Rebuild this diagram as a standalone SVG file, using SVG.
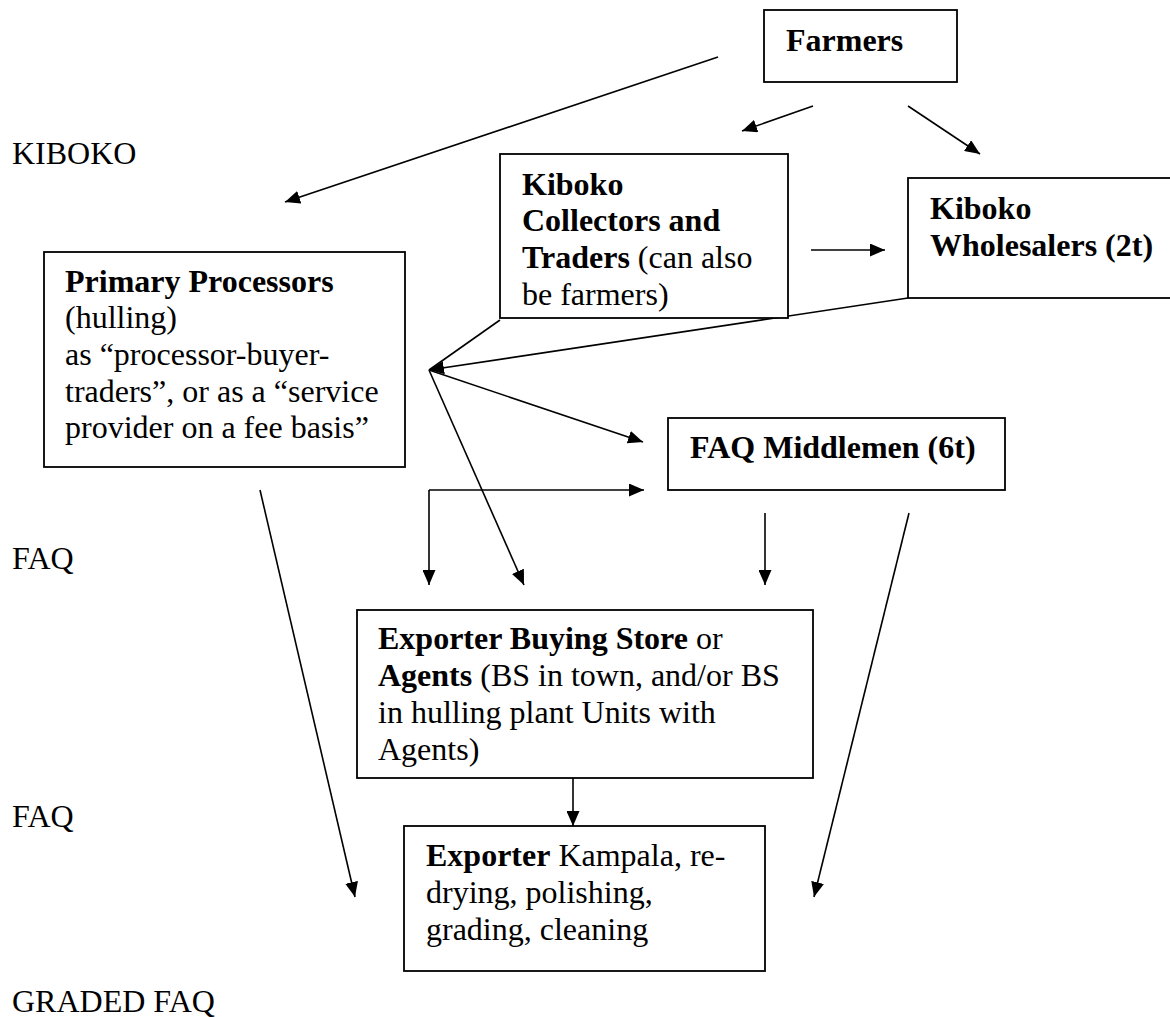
<svg xmlns="http://www.w3.org/2000/svg" width="1170" height="1017" viewBox="0 0 1170 1017">
<style>
.box{fill:#fff;stroke:#000;stroke-width:1.8}
text{font-family:'Liberation Serif',Tinos,'Times New Roman',Times,'DejaVu Serif',serif;font-size:32px;fill:#000}
.b{font-weight:bold}
.c{fill:none;stroke:#000;stroke-width:1.6}
</style>
<defs>
<marker id="ah" markerUnits="userSpaceOnUse" markerWidth="16" markerHeight="13" refX="15" refY="6.5" orient="auto">
<path d="M0,0 L15,6.5 L0,13 z" fill="#000"/>
</marker>
</defs>
<rect width="1170" height="1017" fill="#fff"/>

<g id="labels">
<text x="12" y="164">KIBOKO</text>
<text x="12" y="569">FAQ</text>
<text x="12" y="827">FAQ</text>
<text x="12" y="1012">GRADED FAQ</text>
</g>

<g id="connectors" class="c">
<line x1="718" y1="57" x2="285" y2="202" marker-end="url(#ah)"/>
<line x1="813" y1="106" x2="742" y2="131" marker-end="url(#ah)"/>
<line x1="908" y1="106" x2="980" y2="154" marker-end="url(#ah)"/>
<line x1="811" y1="250" x2="885" y2="250" marker-end="url(#ah)"/>
<line x1="500" y1="320" x2="429" y2="370"/>
<line x1="908" y1="298" x2="429" y2="370" marker-end="url(#ah)"/>
<line x1="429" y1="370" x2="643" y2="442" marker-end="url(#ah)"/>
<line x1="429" y1="370" x2="524" y2="585" marker-end="url(#ah)"/>
<line x1="429" y1="490" x2="429" y2="585" marker-end="url(#ah)"/>
<line x1="429" y1="490" x2="644" y2="490" marker-end="url(#ah)"/>
<line x1="765" y1="513" x2="765" y2="585" marker-end="url(#ah)"/>
<line x1="909" y1="513" x2="814" y2="897" marker-end="url(#ah)"/>
<line x1="260" y1="490" x2="355" y2="897" marker-end="url(#ah)"/>
<line x1="573" y1="778" x2="573" y2="826" marker-end="url(#ah)"/>
</g>

<g id="farmers">
<rect class="box" x="764" y="10" width="193" height="72"/>
<text class="b" x="786" y="51">Farmers</text>
</g>

<g id="collectors">
<rect class="box" x="500" y="154" width="288" height="164"/>
<text class="b" x="522" y="195">Kiboko</text>
<text class="b" x="522" y="231">Collectors and</text>
<text x="522" y="268"><tspan class="b">Traders</tspan> (can also</text>
<text x="522" y="305">be farmers)</text>
</g>

<g id="wholesalers">
<rect class="box" x="908" y="178" width="280" height="120"/>
<text class="b" x="930" y="219">Kiboko</text>
<text class="b" x="930" y="256">Wholesalers (2t)</text>
</g>

<g id="primary">
<rect class="box" x="44" y="252" width="361" height="215"/>
<text class="b" x="65" y="292">Primary Processors</text>
<text x="65" y="328">(hulling)</text>
<text x="65" y="365">as “processor-buyer-</text>
<text x="65" y="402">traders”, or as a “service</text>
<text x="65" y="438">provider on a fee basis”</text>
</g>

<g id="middlemen">
<rect class="box" x="668" y="418" width="337" height="72"/>
<text class="b" x="690" y="458">FAQ Middlemen (6t)</text>
</g>

<g id="buying-store">
<rect class="box" x="357" y="610" width="456" height="168"/>
<text x="378" y="649"><tspan class="b">Exporter Buying Store</tspan> or</text>
<text x="378" y="686"><tspan class="b">Agents</tspan> (BS in town, and/or BS</text>
<text x="378" y="723">in hulling plant Units with</text>
<text x="378" y="760">Agents)</text>
</g>

<g id="exporter">
<rect class="box" x="404" y="826" width="361" height="145"/>
<text x="426" y="866"><tspan class="b">Exporter</tspan> Kampala, re-</text>
<text x="426" y="903">drying, polishing,</text>
<text x="426" y="940">grading, cleaning</text>
</g>
</svg>
